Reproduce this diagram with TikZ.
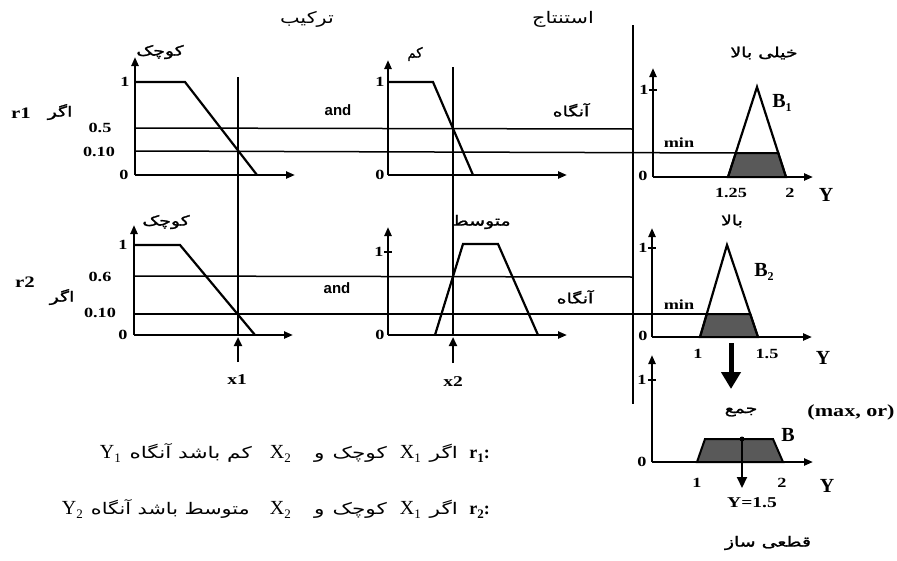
\documentclass[tikz,border=0pt]{standalone}
\usepackage{fontspec}
\usepackage{graphicx}
\usetikzlibrary{arrows.meta}
\setmainfont{Liberation Serif}
\newfontfamily\fafont[Script=Arabic,FakeBold=1.5,FakeStretch=1.35]{DejaVu Sans}
\newfontfamily\titlefont[Script=Arabic,FakeStretch=1.3]{DejaVu Sans}
\newfontfamily\rulefont[Script=Arabic,FakeStretch=1.35]{DejaVu Sans}
\newfontfamily\nmfont[FakeStretch=1.3]{Liberation Serif}
\newfontfamily\sbfont{Liberation Sans}
\TeXXeTstate=1
\newcommand\subs[1]{\raisebox{-4pt}{\fontsize{13}{13}\selectfont #1}}
\tikzset{
  axarrow/.style={line width=2.2pt,-{Triangle[length=9pt,width=7pt]}},
  mfline/.style={line width=2.2pt,line join=miter},
  levelline/.style={line width=1.5pt},
  numlbl/.style={font=\nmfont\bfseries\fontsize{14}{14}\selectfont,inner sep=0pt},
  biglbl/.style={font=\bfseries\fontsize{20}{20}\selectfont,inner sep=0pt},
  falbl/.style={font=\fafont\fontsize{14}{14}\selectfont,inner sep=0pt},
  titlelbl/.style={font=\titlefont\fontsize{16}{16}\selectfont,inner sep=0pt},
  andlbl/.style={font=\sbfont\bfseries\fontsize{15}{15}\selectfont,inner sep=0pt},
  areafill/.style={fill=black!65,draw=black,line width=2pt,line join=miter},
  rulefa/.style={font=\rulefont\fontsize{16}{16}\selectfont,inner sep=0pt,anchor=base east},
  rulelat/.style={font=\rmfamily\fontsize{20}{20}\selectfont,inner sep=0pt,anchor=base east},
  rulelab/.style={font=\rmfamily\bfseries\fontsize{18}{18}\selectfont,inner sep=0pt,anchor=base east}
}
\begin{document}
\begin{tikzpicture}[x=1pt,y=-1pt]
\useasboundingbox (0,0) rectangle (897,560);
% titles
\node[titlelbl] (tTarkib) at (307,19) {\beginR ترکیب\endR};
\node[titlelbl] (tEstentaj) at (563,19) {\beginR استنتاج\endR};

% ===== Row 1 =====
\node[numlbl,font=\nmfont\bfseries\fontsize{16}{16}\selectfont] (r1) at (21,113) {r1};
\node[falbl] (agar1) at (60,112) {\beginR اگر\endR};
% graph A
\draw[axarrow] (135,175) -- (135,57);
\draw[axarrow] (135,175) -- (295,175);
\draw[mfline] (135,82) -- (185,82) -- (257,175);
\node[numlbl] (aOne) at (125,82) {1};
\node[numlbl] (aZero) at (124,175) {0};
\node[numlbl] (aHalf) at (100,128) {0.5};
\node[numlbl] (aTen) at (99,152) {0.10};
\node[falbl] (aSmall) at (160,52) {\beginR کوچک\endR};
% graph B
\draw[axarrow] (388,175) -- (388,60);
\draw[axarrow] (388,175) -- (567,175);
\draw[mfline] (388,82) -- (433,82) -- (473,175);
\node[numlbl] (bOne) at (380,82) {1};
\node[numlbl] (bZero) at (380,175) {0};
\node[falbl] (bLow) at (415,54) {\scalebox{0.7}[1]{\beginR کم\endR}};
\node[andlbl] (and1) at (338,110) {and};
\node[falbl] (then1) at (571,110) {\beginR آنگاه\endR};
% level lines row 1
\draw[levelline] (135,128) -- (633,129);
\draw[levelline] (135,151) -- (736,153);
% vertical input lines
\draw[line width=2.2pt] (238,77) -- (238,336);
\draw[line width=2.2pt] (453,67) -- (453,336);
% separator
\draw[line width=2.6pt] (633,25) -- (633,404);
% graph C
\draw[axarrow] (653,177) -- (653,68);
\draw[axarrow] (653,177) -- (813,177);
\draw[line width=1.5pt] (649,90) -- (657,90);
\draw[areafill] (728,177) -- (735.7,153) -- (778.3,153) -- (786,177) -- cycle;
\draw[mfline] (728,177) -- (757,87) -- (786,177);
\node[numlbl] (cOne) at (644,90) {1};
\node[numlbl] (cZero) at (643,176) {0};
\node[numlbl] (cMin) at (679,143) {min};
\node[biglbl] (cB) at (782,103) {B\raisebox{-4pt}{\fontsize{12}{12}\selectfont 1}};
\node[falbl] (cVeryHigh) at (764,53) {\beginR خیلی بالا\endR};
\node[numlbl] (cT1) at (731,193) {1.25};
\node[numlbl] (cT2) at (790,193) {2};
\node[biglbl] (cY) at (826,195) {Y};

% ===== Row 2 =====
\node[numlbl,font=\nmfont\bfseries\fontsize{16}{16}\selectfont] (r2) at (25,282) {r2};
\node[falbl] (agar2) at (62,297) {\beginR اگر\endR};
% graph D
\draw[axarrow] (134,335) -- (134,225);
\draw[axarrow] (134,335) -- (293,335);
\draw[mfline] (134,245) -- (180,245) -- (255,335);
\node[numlbl] (dOne) at (123,245) {1};
\node[numlbl] (dZero) at (123,335) {0};
\node[numlbl] (dSix) at (100,277) {0.6};
\node[numlbl] (dTen) at (100,313) {0.10};
\node[falbl] (dSmall) at (166,222) {\beginR کوچک\endR};
% graph E
\draw[axarrow] (388,335) -- (388,227);
\draw[axarrow] (388,335) -- (567,335);
\draw[line width=1.5pt] (384,252) -- (392,252);
\draw[mfline] (435,335) -- (463,244) -- (498,244) -- (538,335);
\node[numlbl] (eOne) at (379,252) {1};
\node[numlbl] (eZero) at (380,335) {0};
\node[falbl] (eMed) at (481,222) {\beginR متوسط\endR};
\node[andlbl] (and2) at (337,288) {and};
\node[falbl] (then2) at (575,297) {\beginR آنگاه\endR};
% level lines row 2
\draw[levelline] (134,276) -- (633,277);
\draw[levelline] (134,314) -- (707,314);
% input arrows
\draw[line width=2.2pt,-{Triangle[length=9pt,width=8pt]}] (238,362) -- (238,337);
\draw[line width=2.2pt,-{Triangle[length=9pt,width=8pt]}] (453,363) -- (453,337);
\node[numlbl,font=\nmfont\bfseries\fontsize{15}{15}\selectfont] (x1) at (237,380) {x1};
\node[numlbl,font=\nmfont\bfseries\fontsize{15}{15}\selectfont] (x2) at (453,382) {x2};
% graph F
\draw[axarrow] (652,337) -- (652,228);
\draw[axarrow] (652,337) -- (812,337);
\draw[line width=1.5pt] (648,248) -- (656,248);
\draw[areafill] (700,337) -- (706.75,314) -- (750.25,314) -- (758,337) -- cycle;
\draw[mfline] (700,337) -- (727,245) -- (758,337);
\node[numlbl] (fOne) at (643,248) {1};
\node[numlbl] (fZero) at (643,336) {0};
\node[numlbl] (fMin) at (679,305) {min};
\node[biglbl] (fB) at (764,272) {B\raisebox{-4pt}{\fontsize{12}{12}\selectfont 2}};
\node[falbl] (fHigh) at (732,221) {\beginR بالا\endR};
\node[numlbl] (fT1) at (698,354) {1};
\node[numlbl] (fT2) at (767,354) {1.5};
\node[biglbl] (fY) at (823,358) {Y};
\draw[line width=5pt,-{Triangle[length=17pt,width=19pt]}] (731,343) -- (731,389);

% ===== Row 3 =====
\draw[axarrow] (652,462) -- (652,355);
\draw[axarrow] (652,462) -- (813,462);
\draw[line width=1.5pt] (648,380) -- (656,380);
\draw[areafill] (697,462) -- (705,439) -- (773,439) -- (783,462) -- cycle;
\fill (742,439) circle (2.5pt);
\draw[line width=2pt,-{Triangle[length=11pt,width=10pt]}] (742,439) -- (742,488);
\node[numlbl] (gOne) at (642,380) {1};
\node[numlbl] (gZero) at (642,462) {0};
\node[biglbl] (gB) at (788,435) {B};
\node[falbl] (gSum) at (741,412) {\beginR جمع\endR};
\node[numlbl,font=\nmfont\bfseries\fontsize{17}{17}\selectfont] (gMax) at (851,412) {(max, or)};
\node[numlbl,font=\nmfont\bfseries\fontsize{15}{15}\selectfont] (gRes) at (752,503) {Y=1.5};
\node[numlbl] (gT1) at (697,483) {1};
\node[numlbl] (gT2) at (782,483) {2};
\node[biglbl] (gY) at (827,486) {Y};
\node[falbl] (gDefuzz) at (768,543) {\beginR قطعی ساز\endR};

% ===== rule texts (right to left) =====
\node[rulelab] (l1r) at (490,458) {r\subs{1}:};
\node[rulefa] (l1if) at (458,458) {\beginR اگر\endR};
\node[rulelat] (l1x1) at (421,458) {X\subs{1}};
\node[rulefa] (l1small) at (387,458) {\beginR کوچک\hspace{8pt}و\endR};
\node[rulelat] (l1x2) at (291,458) {X\subs{2}};
\node[rulefa] (l1low) at (252,458) {\beginR کم باشد آنگاه\endR};
\node[rulelat] (l1y) at (121,458) {Y\subs{1}};

\node[rulelab] (l2r) at (490,514) {r\subs{2}:};
\node[rulefa] (l2if) at (458,514) {\beginR اگر\endR};
\node[rulelat] (l2x1) at (421,514) {X\subs{1}};
\node[rulefa] (l2small) at (387,514) {\beginR کوچک\hspace{8pt}و\endR};
\node[rulelat] (l2x2) at (291,514) {X\subs{2}};
\node[rulefa] (l2med) at (250,514) {\scalebox{0.96}[1]{\beginR متوسط باشد آنگاه\endR}};
\node[rulelat] (l2y) at (83,514) {Y\subs{2}};
\end{tikzpicture}
\end{document}
